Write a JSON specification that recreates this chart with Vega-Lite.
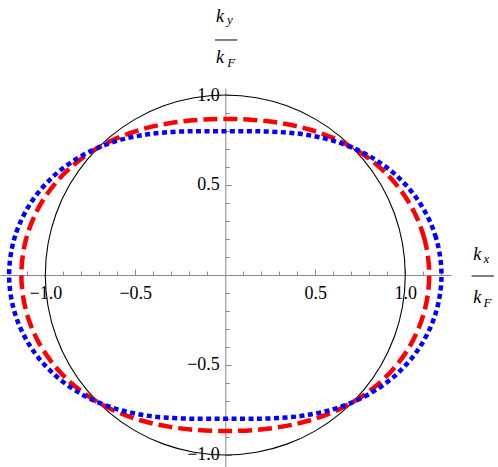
{
  "$schema": "https://vega.github.io/schema/vega-lite/v6.json",
  "width": 451,
  "height": 379,
  "autosize": "none",
  "padding": {"left": 0, "top": 88, "right": 47, "bottom": 0},
  "background": "white",
  "config": {
    "view": {"stroke": null},
    "axis": {"grid": false, "title": null, "labelFont": "Liberation Serif", "labelFontSize": 18, "labelColor": "black", "domainColor": "#888888", "tickColor": "#888888"},
    "text": {"font": "Liberation Serif"}
  },
  "datasets": {
    "circle": [
      {"i": 0, "x": 1, "y": 0}, {"i": 1, "x": 0.9848, "y": 0.1736}, {"i": 2, "x": 0.9397, "y": 0.342}, {"i": 3, "x": 0.866, "y": 0.5},
      {"i": 4, "x": 0.766, "y": 0.6428}, {"i": 5, "x": 0.6428, "y": 0.766}, {"i": 6, "x": 0.5, "y": 0.866}, {"i": 7, "x": 0.342, "y": 0.9397},
      {"i": 8, "x": 0.1736, "y": 0.9848}, {"i": 9, "x": 0, "y": 1}, {"i": 10, "x": -0.1736, "y": 0.9848}, {"i": 11, "x": -0.342, "y": 0.9397},
      {"i": 12, "x": -0.5, "y": 0.866}, {"i": 13, "x": -0.6428, "y": 0.766}, {"i": 14, "x": -0.766, "y": 0.6428}, {"i": 15, "x": -0.866, "y": 0.5},
      {"i": 16, "x": -0.9397, "y": 0.342}, {"i": 17, "x": -0.9848, "y": 0.1736}, {"i": 18, "x": -1, "y": 0}, {"i": 19, "x": -0.9848, "y": -0.1736},
      {"i": 20, "x": -0.9397, "y": -0.342}, {"i": 21, "x": -0.866, "y": -0.5}, {"i": 22, "x": -0.766, "y": -0.6428}, {"i": 23, "x": -0.6428, "y": -0.766},
      {"i": 24, "x": -0.5, "y": -0.866}, {"i": 25, "x": -0.342, "y": -0.9397}, {"i": 26, "x": -0.1736, "y": -0.9848}, {"i": 27, "x": 0, "y": -1},
      {"i": 28, "x": 0.1736, "y": -0.9848}, {"i": 29, "x": 0.342, "y": -0.9397}, {"i": 30, "x": 0.5, "y": -0.866}, {"i": 31, "x": 0.6428, "y": -0.766},
      {"i": 32, "x": 0.766, "y": -0.6428}, {"i": 33, "x": 0.866, "y": -0.5}, {"i": 34, "x": 0.9397, "y": -0.342}, {"i": 35, "x": 0.9848, "y": -0.1736}
    ],
    "red": [
      {"i": 0, "x": 1.133, "y": 0}, {"i": 1, "x": 1.1079, "y": 0.1953}, {"i": 2, "x": 1.0355, "y": 0.3768}, {"i": 3, "x": 0.9236, "y": 0.5333},
      {"i": 4, "x": 0.7837, "y": 0.6577}, {"i": 5, "x": 0.628, "y": 0.7483}, {"i": 6, "x": 0.4668, "y": 0.8084}, {"i": 7, "x": 0.3072, "y": 0.8439},
      {"i": 8, "x": 0.1519, "y": 0.8617}, {"i": 9, "x": 0, "y": 0.867}, {"i": 10, "x": -0.1519, "y": 0.8617}, {"i": 11, "x": -0.3072, "y": 0.8439},
      {"i": 12, "x": -0.4668, "y": 0.8084}, {"i": 13, "x": -0.628, "y": 0.7483}, {"i": 14, "x": -0.7837, "y": 0.6577}, {"i": 15, "x": -0.9236, "y": 0.5333},
      {"i": 16, "x": -1.0355, "y": 0.3768}, {"i": 17, "x": -1.1079, "y": 0.1953}, {"i": 18, "x": -1.133, "y": 0}, {"i": 19, "x": -1.1079, "y": -0.1953},
      {"i": 20, "x": -1.0355, "y": -0.3768}, {"i": 21, "x": -0.9236, "y": -0.5333}, {"i": 22, "x": -0.7837, "y": -0.6577}, {"i": 23, "x": -0.628, "y": -0.7483},
      {"i": 24, "x": -0.4668, "y": -0.8084}, {"i": 25, "x": -0.3072, "y": -0.8439}, {"i": 26, "x": -0.1519, "y": -0.8617}, {"i": 27, "x": 0, "y": -0.867},
      {"i": 28, "x": 0.1519, "y": -0.8617}, {"i": 29, "x": 0.3072, "y": -0.8439}, {"i": 30, "x": 0.4668, "y": -0.8084}, {"i": 31, "x": 0.628, "y": -0.7483},
      {"i": 32, "x": 0.7837, "y": -0.6577}, {"i": 33, "x": 0.9236, "y": -0.5333}, {"i": 34, "x": 1.0355, "y": -0.3768}, {"i": 35, "x": 1.1079, "y": -0.1953}
    ],
    "blue": [
      {"i": 0, "x": 1.201, "y": 0}, {"i": 1, "x": 1.1708, "y": 0.2064}, {"i": 2, "x": 1.0844, "y": 0.3947}, {"i": 3, "x": 0.953, "y": 0.5503},
      {"i": 4, "x": 0.7927, "y": 0.6652}, {"i": 5, "x": 0.6204, "y": 0.7393}, {"i": 6, "x": 0.4498, "y": 0.779}, {"i": 7, "x": 0.2893, "y": 0.795},
      {"i": 8, "x": 0.1408, "y": 0.7988}, {"i": 9, "x": 0, "y": 0.799}, {"i": 10, "x": -0.1408, "y": 0.7988}, {"i": 11, "x": -0.2893, "y": 0.795},
      {"i": 12, "x": -0.4498, "y": 0.779}, {"i": 13, "x": -0.6204, "y": 0.7393}, {"i": 14, "x": -0.7927, "y": 0.6652}, {"i": 15, "x": -0.953, "y": 0.5503},
      {"i": 16, "x": -1.0844, "y": 0.3947}, {"i": 17, "x": -1.1708, "y": 0.2064}, {"i": 18, "x": -1.201, "y": 0}, {"i": 19, "x": -1.1708, "y": -0.2064},
      {"i": 20, "x": -1.0844, "y": -0.3947}, {"i": 21, "x": -0.953, "y": -0.5503}, {"i": 22, "x": -0.7927, "y": -0.6652}, {"i": 23, "x": -0.6204, "y": -0.7393},
      {"i": 24, "x": -0.4498, "y": -0.779}, {"i": 25, "x": -0.2893, "y": -0.795}, {"i": 26, "x": -0.1408, "y": -0.7988}, {"i": 27, "x": 0, "y": -0.799},
      {"i": 28, "x": 0.1408, "y": -0.7988}, {"i": 29, "x": 0.2893, "y": -0.795}, {"i": 30, "x": 0.4498, "y": -0.779}, {"i": 31, "x": 0.6204, "y": -0.7393},
      {"i": 32, "x": 0.7927, "y": -0.6652}, {"i": 33, "x": 0.953, "y": -0.5503}, {"i": 34, "x": 1.0844, "y": -0.3947}, {"i": 35, "x": 1.1708, "y": -0.2064}
    ]
  },
  "layer": [
    {
      "data": {"name": "circle"},
      "mark": {"type": "line", "interpolate": "cardinal-closed", "color": "black", "strokeWidth": 1.1},
      "encoding": {
        "x": {"field": "x", "type": "quantitative", "scale": {"domain": [-1.2517, 1.254], "nice": false, "zero": false},
          "axis": {"orient": "bottom", "offset": -192, "values": [-1, -0.5, 0.5, 1], "format": ".1f", "ticks": false, "tickSize": 0, "domain": false, "labelPadding": 9}},
        "y": {"field": "y", "type": "quantitative", "scale": {"domain": [-1.0667, 1.0389], "nice": false, "zero": false},
          "axis": {"orient": "left", "offset": -225.3, "values": [-1, -0.5, 0.5, 1], "format": ".1f", "ticks": false, "tickSize": 0, "domain": false, "labelPadding": 6}},
        "order": {"field": "i", "type": "quantitative"}
      }
    },
    {
      "data": {"name": "red"},
      "mark": {"type": "line", "interpolate": "cardinal-closed", "color": "#FF0000", "strokeWidth": 4.5, "strokeDash": [14, 6], "strokeCap": "butt"},
      "encoding": {
        "x": {"field": "x", "type": "quantitative", "scale": {"domain": [-1.2517, 1.254], "nice": false, "zero": false},
          "axis": {"orient": "top", "offset": -187, "labels": false, "domain": true, "ticks": true,
            "values": [-1.2, -1.1, -1, -0.9, -0.8, -0.7, -0.6, -0.5, -0.4, -0.3, -0.2, -0.1, 0.1, 0.2, 0.3, 0.4, 0.5, 0.6, 0.7, 0.8, 0.9, 1, 1.1, 1.2],
            "tickSize": {"condition": {"test": "abs(datum.value) == 0.5 || abs(datum.value) == 1", "value": 6}, "value": 4}}},
        "y": {"field": "y", "type": "quantitative", "scale": {"domain": [-1.0667, 1.0389], "nice": false, "zero": false},
          "axis": {"orient": "right", "offset": -225.7, "labels": false, "domain": true, "ticks": true,
            "values": [-1, -0.9, -0.8, -0.7, -0.6, -0.5, -0.4, -0.3, -0.2, -0.1, 0.1, 0.2, 0.3, 0.4, 0.5, 0.6, 0.7, 0.8, 0.9, 1],
            "tickSize": {"condition": {"test": "abs(datum.value) == 0.5 || abs(datum.value) == 1", "value": 6}, "value": 4}}},
        "order": {"field": "i", "type": "quantitative"}
      }
    },
    {
      "data": {"name": "blue"},
      "mark": {"type": "line", "interpolate": "cardinal-closed", "color": "#0000FF", "strokeWidth": 4.5, "strokeDash": [5, 3.5], "strokeCap": "butt"},
      "encoding": {
        "x": {"field": "x", "type": "quantitative", "scale": {"domain": [-1.2517, 1.254], "nice": false, "zero": false}, "axis": null},
        "y": {"field": "y", "type": "quantitative", "scale": {"domain": [-1.0667, 1.0389], "nice": false, "zero": false}, "axis": null},
        "order": {"field": "i", "type": "quantitative"}
      }
    },
    {
      "data": {"values": [{"t": "k"}]},
      "mark": {"type": "text", "fontStyle": "italic", "fontSize": 18, "align": "left", "baseline": "alphabetic", "color": "black"},
      "encoding": {
        "x": {"datum": -0.0517, "type": "quantitative", "scale": {"domain": [-1.2517, 1.254], "nice": false, "zero": false}, "axis": null},
        "y": {"datum": 1.4039, "type": "quantitative", "scale": {"domain": [-1.0667, 1.0389], "nice": false, "zero": false}, "axis": null},
        "text": {"field": "t"}
      }
    },
    {
      "data": {"values": [{"t": "y"}]},
      "mark": {"type": "text", "fontStyle": "italic", "fontSize": 13, "align": "left", "baseline": "alphabetic", "color": "black"},
      "encoding": {
        "x": {"datum": 0.0094, "type": "quantitative", "scale": {"domain": [-1.2517, 1.254], "nice": false, "zero": false}, "axis": null},
        "y": {"datum": 1.3917, "type": "quantitative", "scale": {"domain": [-1.0667, 1.0389], "nice": false, "zero": false}, "axis": null},
        "text": {"field": "t"}
      }
    },
    {
      "data": {"values": [{"t": "k"}]},
      "mark": {"type": "text", "fontStyle": "italic", "fontSize": 18, "align": "left", "baseline": "alphabetic", "color": "black"},
      "encoding": {
        "x": {"datum": -0.0517, "type": "quantitative", "scale": {"domain": [-1.2517, 1.254], "nice": false, "zero": false}, "axis": null},
        "y": {"datum": 1.1761, "type": "quantitative", "scale": {"domain": [-1.0667, 1.0389], "nice": false, "zero": false}, "axis": null},
        "text": {"field": "t"}
      }
    },
    {
      "data": {"values": [{"t": "F"}]},
      "mark": {"type": "text", "fontStyle": "italic", "fontSize": 13, "align": "left", "baseline": "alphabetic", "color": "black"},
      "encoding": {
        "x": {"datum": 0.0111, "type": "quantitative", "scale": {"domain": [-1.2517, 1.254], "nice": false, "zero": false}, "axis": null},
        "y": {"datum": 1.1572, "type": "quantitative", "scale": {"domain": [-1.0667, 1.0389], "nice": false, "zero": false}, "axis": null},
        "text": {"field": "t"}
      }
    },
    {
      "data": {"values": [{"t": "k"}]},
      "mark": {"type": "text", "fontStyle": "italic", "fontSize": 18, "align": "left", "baseline": "alphabetic", "color": "black"},
      "encoding": {
        "x": {"datum": 1.3778, "type": "quantitative", "scale": {"domain": [-1.2517, 1.254], "nice": false, "zero": false}, "axis": null},
        "y": {"datum": 0.0833, "type": "quantitative", "scale": {"domain": [-1.0667, 1.0389], "nice": false, "zero": false}, "axis": null},
        "text": {"field": "t"}
      }
    },
    {
      "data": {"values": [{"t": "x"}]},
      "mark": {"type": "text", "fontStyle": "italic", "fontSize": 13, "align": "left", "baseline": "alphabetic", "color": "black"},
      "encoding": {
        "x": {"datum": 1.4344, "type": "quantitative", "scale": {"domain": [-1.2517, 1.254], "nice": false, "zero": false}, "axis": null},
        "y": {"datum": 0.0694, "type": "quantitative", "scale": {"domain": [-1.0667, 1.0389], "nice": false, "zero": false}, "axis": null},
        "text": {"field": "t"}
      }
    },
    {
      "data": {"values": [{"t": "k"}]},
      "mark": {"type": "text", "fontStyle": "italic", "fontSize": 18, "align": "left", "baseline": "alphabetic", "color": "black"},
      "encoding": {
        "x": {"datum": 1.3778, "type": "quantitative", "scale": {"domain": [-1.2517, 1.254], "nice": false, "zero": false}, "axis": null},
        "y": {"datum": -0.1572, "type": "quantitative", "scale": {"domain": [-1.0667, 1.0389], "nice": false, "zero": false}, "axis": null},
        "text": {"field": "t"}
      }
    },
    {
      "data": {"values": [{"t": "F"}]},
      "mark": {"type": "text", "fontStyle": "italic", "fontSize": 13, "align": "left", "baseline": "alphabetic", "color": "black"},
      "encoding": {
        "x": {"datum": 1.4344, "type": "quantitative", "scale": {"domain": [-1.2517, 1.254], "nice": false, "zero": false}, "axis": null},
        "y": {"datum": -0.1761, "type": "quantitative", "scale": {"domain": [-1.0667, 1.0389], "nice": false, "zero": false}, "axis": null},
        "text": {"field": "t"}
      }
    },
    {
      "data": {"values": [{"t": "bar"}]},
      "mark": {"type": "rule", "color": "black", "strokeWidth": 1},
      "encoding": {
        "x": {"datum": -0.0572, "type": "quantitative", "scale": {"domain": [-1.2517, 1.254], "nice": false, "zero": false}, "axis": null},
        "x2": {"datum": 0.0667},
        "y": {"datum": 1.3056, "type": "quantitative", "scale": {"domain": [-1.0667, 1.0389], "nice": false, "zero": false}, "axis": null}
      }
    },
    {
      "data": {"values": [{"t": "bar"}]},
      "mark": {"type": "rule", "color": "black", "strokeWidth": 1},
      "encoding": {
        "x": {"datum": 1.3689, "type": "quantitative", "scale": {"domain": [-1.2517, 1.254], "nice": false, "zero": false}, "axis": null},
        "x2": {"datum": 1.4928},
        "y": {"datum": -0.0056, "type": "quantitative", "scale": {"domain": [-1.0667, 1.0389], "nice": false, "zero": false}, "axis": null}
      }
    }
  ],
  "resolve": {"axis": {"x": "independent", "y": "independent"}}
}
